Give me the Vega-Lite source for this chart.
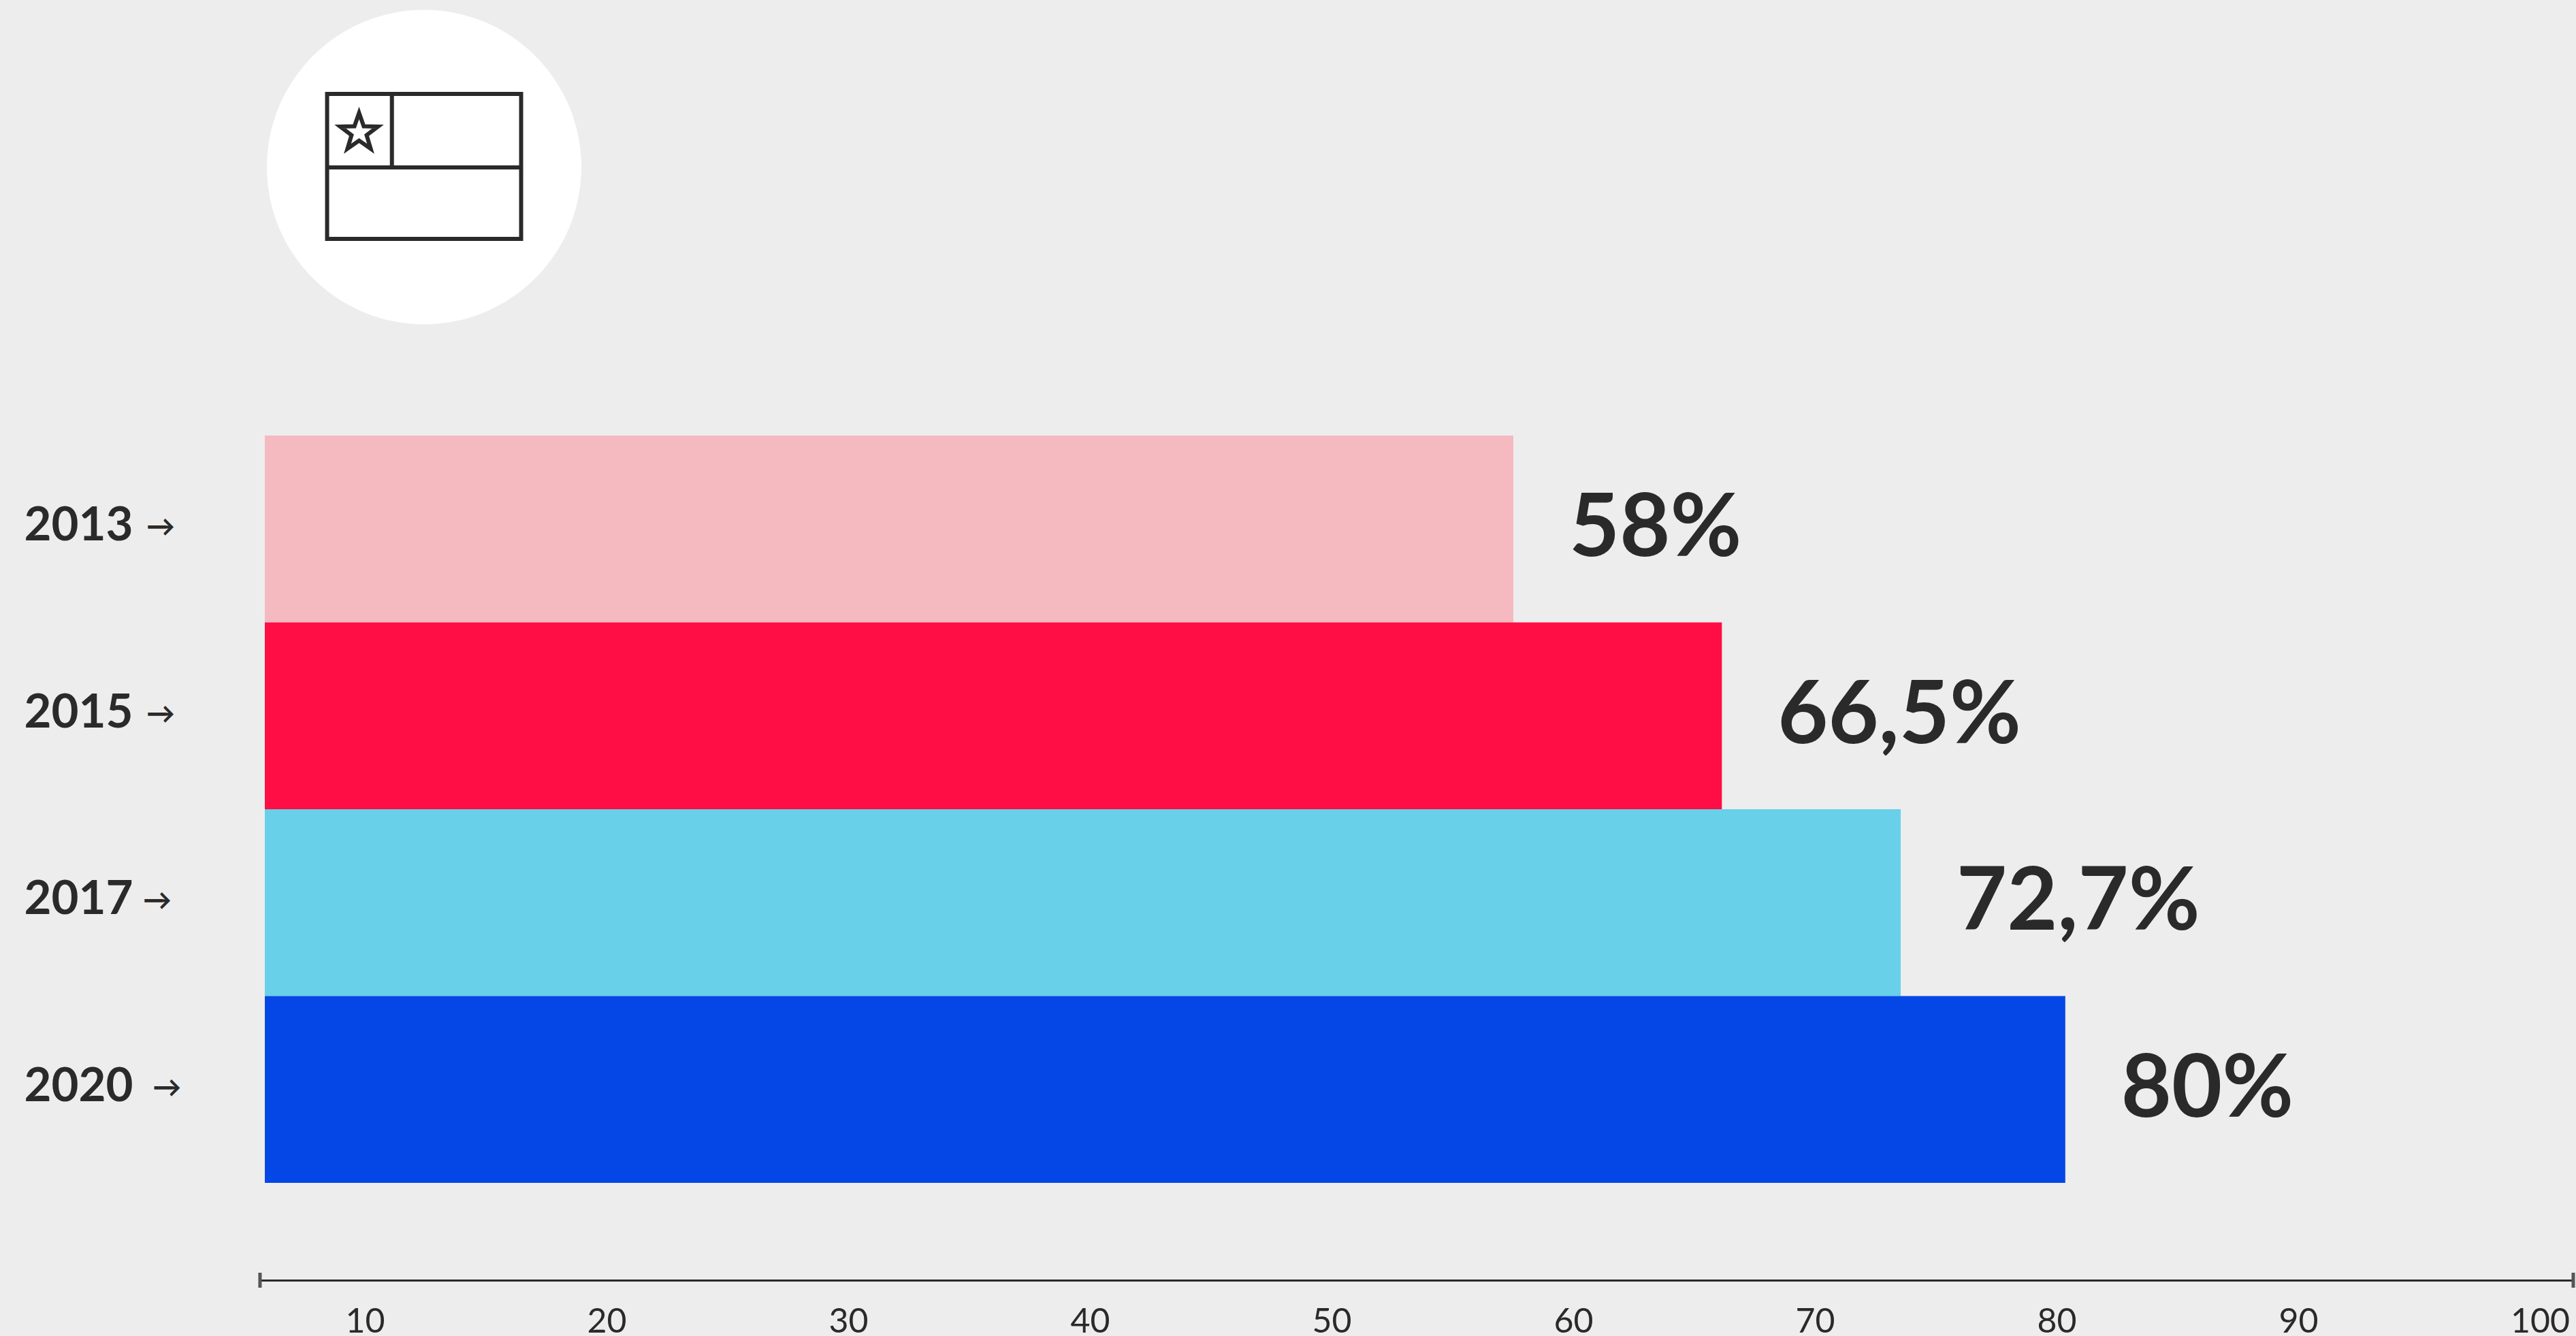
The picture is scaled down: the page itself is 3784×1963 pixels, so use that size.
{"$schema":"https://vega.github.io/schema/vega-lite/v6.json","autosize":"none","width":3399,"height":1881,"padding":{"left":381,"top":0,"right":4,"bottom":82},"background":"#ededed","view":{"stroke":null},"config":{"axis":{"grid":false}},"datasets":{"rows":[{"year":"2013","start":5.86,"value":57.52,"label":"58%","arrow":0.96,"color":"#f5b9c0"},{"year":"2015","start":5.86,"value":66.15,"label":"66,5%","arrow":0.96,"color":"#ff0d45"},{"year":"2017","start":5.86,"value":73.55,"label":"72,7%","arrow":0.82,"color":"#68d0e9"},{"year":"2020","start":5.86,"value":80.36,"label":"80%","arrow":1.22,"color":"#0447e6"}]},"resolve":{"scale":{"y":"independent"}},"layer":[{"data":{"name":"rows"},"mark":{"type":"bar"},"encoding":{"y":{"field":"year","type":"nominal","title":null,"sort":null,"scale":{"paddingInner":0,"paddingOuter":0,"range":[640,1738]},"axis":{"domain":false,"ticks":false,"labelAlign":"left","labelBaseline":"middle","labelPadding":346,"labelFont":"Lato","labelFontWeight":"bold","labelFontSize":69,"labelColor":"#2a2a2a","labelOffset":-4,"labelLimit":400}},"x":{"field":"start","type":"quantitative","title":null,"scale":{"domain":[5.634,101.38],"nice":false,"zero":false},"axis":{"values":[10,20,30,40,50,60,70,80,90,100],"ticks":false,"domainColor":"#2a2a2a","domainWidth":3,"labelFont":"Lato","labelFontSize":50,"labelColor":"#2a2a2a","labelPadding":36,"labelFlush":false}},"x2":{"field":"value"},"color":{"field":"color","type":"nominal","scale":null}}},{"data":{"name":"rows"},"mark":{"type":"text","align":"left","baseline":"middle","dx":82,"dy":2,"font":"Lato","fontWeight":"bold","fontSize":128,"color":"#2a2a2a"},"encoding":{"y":{"field":"year","type":"nominal","sort":null,"scale":{"paddingInner":0,"paddingOuter":0,"range":[640,1738]},"axis":null},"x":{"field":"value","type":"quantitative"},"text":{"field":"label"}}},{"data":{"name":"rows"},"mark":{"type":"text","align":"left","baseline":"middle","text":"→","dy":-2,"font":"Lato","fontWeight":"bold","fontSize":42,"color":"#2a2a2a","clip":false},"encoding":{"y":{"field":"year","type":"nominal","sort":null,"scale":{"paddingInner":0,"paddingOuter":0,"range":[640,1738]},"axis":null},"x":{"field":"arrow","type":"quantitative"}}},{"data":{"values":[{"x":12.45,"y":245.5}]},"mark":{"type":"point","shape":"circle","filled":true,"fill":"#ffffff","size":213444,"opacity":1},"encoding":{"x":{"field":"x","type":"quantitative"},"y":{"field":"y","type":"quantitative","axis":null,"scale":{"domain":[0,1881],"reverse":true,"nice":false,"zero":false}}}},{"data":{"values":[{"x":8.437,"x2":16.465,"y":138,"y2":351}]},"mark":{"type":"rect","fill":null,"stroke":"#2a2a2a","strokeWidth":6},"encoding":{"x":{"field":"x","type":"quantitative"},"x2":{"field":"x2"},"y":{"field":"y","type":"quantitative","axis":null,"scale":{"domain":[0,1881],"reverse":true,"nice":false,"zero":false}},"y2":{"field":"y2"}}},{"data":{"values":[{"x":8.437,"x2":16.465,"y":246,"y2":246},{"x":11.118,"x2":11.118,"y":138,"y2":246}]},"mark":{"type":"rule","stroke":"#2a2a2a","strokeWidth":6},"encoding":{"x":{"field":"x","type":"quantitative"},"x2":{"field":"x2"},"y":{"field":"y","type":"quantitative","axis":null,"scale":{"domain":[0,1881],"reverse":true,"nice":false,"zero":false}},"y2":{"field":"y2"}}},{"data":{"values":[{"x":9.76,"y":195}]},"mark":{"type":"point","shape":"M0,-0.5 L0.118,-0.162 L0.476,-0.155 L0.191,0.062 L0.294,0.405 L0,0.2 L-0.294,0.405 L-0.191,0.062 L-0.476,-0.155 L-0.118,-0.162 Z","filled":false,"stroke":"#2a2a2a","strokeWidth":6,"size":13500,"opacity":1},"encoding":{"x":{"field":"x","type":"quantitative"},"y":{"field":"y","type":"quantitative","axis":null,"scale":{"domain":[0,1881],"reverse":true,"nice":false,"zero":false}}}},{"data":{"values":[{"x":5.66,"y":1870,"y2":1892},{"x":101.38,"y":1870,"y2":1892}]},"mark":{"type":"rule","stroke":"#555555","strokeWidth":5,"clip":false},"encoding":{"x":{"field":"x","type":"quantitative"},"y":{"field":"y","type":"quantitative","axis":null,"scale":{"domain":[0,1881],"reverse":true,"nice":false,"zero":false}},"y2":{"field":"y2"}}}]}
